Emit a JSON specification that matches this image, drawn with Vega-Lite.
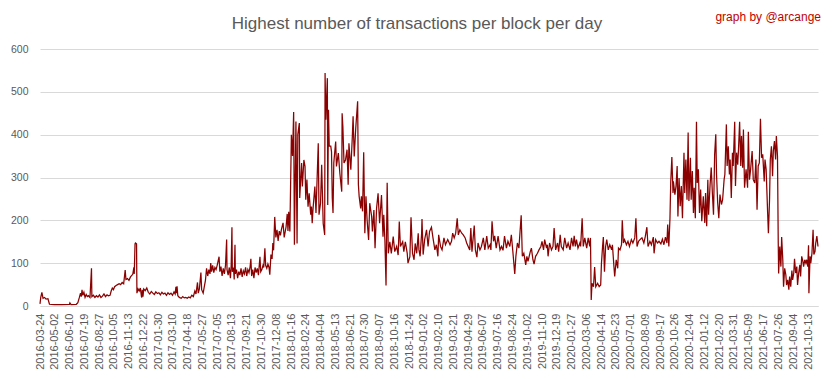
{
"$schema": "https://vega.github.io/schema/vega-lite/v6.json",
"width": 778,
"height": 257,
"autosize": {"type": "none"},
"padding": {"left": 40, "top": 49, "right": 15, "bottom": 73},
"background": "white",
"config": {"font": "Liberation Sans", "view": {"stroke": null}, "axis": {"labelOverlap": false}},
"title": {"text": "Highest number of transactions per block per day", "fontSize": 17, "fontWeight": "normal", "color": "#595959", "anchor": "middle", "dx": -12, "offset": -22},
"resolve": {"axis": {"x": "independent", "y": "independent"}},
"layer": [
{
"data": {"values": [
{"date":"2016-03-24","v":5},{"date":"2016-03-26","v":20},{"date":"2016-03-29","v":32},{"date":"2016-04-01","v":18},{"date":"2016-04-05","v":20},{"date":"2016-04-09","v":16},{"date":"2016-04-14","v":17},{"date":"2016-04-18","v":4},{"date":"2016-05-01","v":3},{"date":"2016-05-20","v":3},{"date":"2016-06-10","v":4},{"date":"2016-06-11","v":7},{"date":"2016-06-14","v":3},{"date":"2016-06-28","v":4},{"date":"2016-07-02","v":8},{"date":"2016-07-06","v":20},{"date":"2016-07-09","v":30},{"date":"2016-07-11","v":22},{"date":"2016-07-13","v":38},{"date":"2016-07-15","v":25},{"date":"2016-07-18","v":32},{"date":"2016-07-21","v":20},{"date":"2016-07-24","v":27},{"date":"2016-07-27","v":22},{"date":"2016-07-30","v":24},{"date":"2016-08-03","v":20},{"date":"2016-08-07","v":88},{"date":"2016-08-08","v":22},{"date":"2016-08-12","v":25},{"date":"2016-08-16","v":20},{"date":"2016-08-20","v":24},{"date":"2016-08-24","v":21},{"date":"2016-08-28","v":26},{"date":"2016-09-01","v":20},{"date":"2016-09-05","v":23},{"date":"2016-09-09","v":28},{"date":"2016-09-13","v":22},{"date":"2016-09-17","v":26},{"date":"2016-09-21","v":24},{"date":"2016-09-25","v":25},{"date":"2016-09-28","v":35},{"date":"2016-10-01","v":42},{"date":"2016-10-04","v":38},{"date":"2016-10-07","v":45},{"date":"2016-10-11","v":48},{"date":"2016-10-15","v":50},{"date":"2016-10-19","v":52},{"date":"2016-10-23","v":50},{"date":"2016-10-27","v":55},{"date":"2016-10-31","v":52},{"date":"2016-11-04","v":84},{"date":"2016-11-06","v":62},{"date":"2016-11-10","v":64},{"date":"2016-11-14","v":60},{"date":"2016-11-18","v":68},{"date":"2016-11-22","v":72},{"date":"2016-11-24","v":74},{"date":"2016-11-27","v":90},{"date":"2016-11-28","v":75},{"date":"2016-11-30","v":145},{"date":"2016-12-01","v":147},{"date":"2016-12-04","v":145},{"date":"2016-12-05","v":30},{"date":"2016-12-08","v":40},{"date":"2016-12-11","v":35},{"date":"2016-12-14","v":42},{"date":"2016-12-17","v":22},{"date":"2016-12-18","v":20},{"date":"2016-12-19","v":38},{"date":"2016-12-21","v":22},{"date":"2016-12-23","v":40},{"date":"2016-12-27","v":36},{"date":"2016-12-31","v":42},
{"date":"2017-01-04","v":32},{"date":"2017-01-08","v":28},{"date":"2017-01-12","v":34},{"date":"2017-01-16","v":30},{"date":"2017-01-20","v":27},{"date":"2017-01-24","v":33},{"date":"2017-01-28","v":29},{"date":"2017-02-01","v":31},{"date":"2017-02-05","v":26},{"date":"2017-02-09","v":32},{"date":"2017-02-13","v":28},{"date":"2017-02-17","v":30},{"date":"2017-02-21","v":25},{"date":"2017-02-25","v":31},{"date":"2017-03-01","v":27},{"date":"2017-03-05","v":30},{"date":"2017-03-09","v":25},{"date":"2017-03-13","v":33},{"date":"2017-03-16","v":28},{"date":"2017-03-18","v":45},{"date":"2017-03-19","v":30},{"date":"2017-03-21","v":46},{"date":"2017-03-23","v":24},{"date":"2017-03-27","v":20},{"date":"2017-04-01","v":18},{"date":"2017-04-05","v":22},{"date":"2017-04-09","v":19},{"date":"2017-04-13","v":20},{"date":"2017-04-17","v":18},{"date":"2017-04-21","v":21},{"date":"2017-04-25","v":19},{"date":"2017-04-29","v":25},{"date":"2017-05-03","v":22},{"date":"2017-05-07","v":35},{"date":"2017-05-10","v":28},{"date":"2017-05-14","v":55},{"date":"2017-05-16","v":30},{"date":"2017-05-19","v":40},{"date":"2017-05-23","v":78},{"date":"2017-05-25","v":38},{"date":"2017-05-29","v":30},{"date":"2017-06-01","v":45},{"date":"2017-06-04","v":60},{"date":"2017-06-07","v":88},{"date":"2017-06-10","v":70},{"date":"2017-06-13","v":85},{"date":"2017-06-16","v":75},{"date":"2017-06-18","v":100},{"date":"2017-06-20","v":80},{"date":"2017-06-23","v":95},{"date":"2017-06-26","v":78},{"date":"2017-06-29","v":90},{"date":"2017-07-02","v":85},{"date":"2017-07-05","v":95},{"date":"2017-07-10","v":115},{"date":"2017-07-12","v":80},{"date":"2017-07-15","v":92},{"date":"2017-07-18","v":70},{"date":"2017-07-21","v":88},{"date":"2017-07-24","v":75},{"date":"2017-07-27","v":95},{"date":"2017-07-30","v":155},{"date":"2017-07-31","v":85},{"date":"2017-08-03","v":72},{"date":"2017-08-06","v":90},{"date":"2017-08-09","v":65},{"date":"2017-08-11","v":95},{"date":"2017-08-13","v":184},{"date":"2017-08-14","v":80},{"date":"2017-08-17","v":90},{"date":"2017-08-19","v":62},{"date":"2017-08-21","v":143},{"date":"2017-08-22","v":75},{"date":"2017-08-25","v":85},{"date":"2017-08-28","v":65},{"date":"2017-08-31","v":80},{"date":"2017-09-03","v":72},{"date":"2017-09-06","v":88},{"date":"2017-09-09","v":68},{"date":"2017-09-12","v":82},{"date":"2017-09-15","v":75},{"date":"2017-09-18","v":90},{"date":"2017-09-21","v":70},{"date":"2017-09-24","v":85},{"date":"2017-09-27","v":78},{"date":"2017-09-30","v":92},{"date":"2017-10-02","v":110},{"date":"2017-10-04","v":70},{"date":"2017-10-07","v":85},{"date":"2017-10-10","v":65},{"date":"2017-10-13","v":90},{"date":"2017-10-16","v":78},{"date":"2017-10-19","v":88},{"date":"2017-10-22","v":72},{"date":"2017-10-26","v":115},{"date":"2017-10-28","v":80},{"date":"2017-10-31","v":85},{"date":"2017-11-03","v":95},{"date":"2017-11-05","v":90},{"date":"2017-11-08","v":135},{"date":"2017-11-10","v":95},{"date":"2017-11-13","v":88},{"date":"2017-11-16","v":98},{"date":"2017-11-19","v":90},{"date":"2017-11-21","v":73},{"date":"2017-11-24","v":120},{"date":"2017-11-27","v":110},{"date":"2017-11-29","v":147},{"date":"2017-12-01","v":130},{"date":"2017-12-04","v":208},{"date":"2017-12-07","v":160},{"date":"2017-12-10","v":178},{"date":"2017-12-13","v":152},{"date":"2017-12-16","v":175},{"date":"2017-12-19","v":165},{"date":"2017-12-22","v":180},{"date":"2017-12-26","v":194},{"date":"2017-12-29","v":160},
{"date":"2018-01-03","v":185},{"date":"2018-01-06","v":215},{"date":"2018-01-08","v":175},{"date":"2018-01-10","v":220},{"date":"2018-01-13","v":174},{"date":"2018-01-17","v":400},{"date":"2018-01-20","v":350},{"date":"2018-01-23","v":453},{"date":"2018-01-25","v":143},{"date":"2018-01-29","v":431},{"date":"2018-02-01","v":146},{"date":"2018-02-03","v":400},{"date":"2018-02-07","v":427},{"date":"2018-02-08","v":252},{"date":"2018-02-13","v":334},{"date":"2018-02-15","v":279},{"date":"2018-02-19","v":341},{"date":"2018-02-22","v":326},{"date":"2018-02-24","v":248},{"date":"2018-02-27","v":295},{"date":"2018-03-02","v":232},{"date":"2018-03-05","v":263},{"date":"2018-03-09","v":213},{"date":"2018-03-11","v":232},{"date":"2018-03-13","v":193},{"date":"2018-03-15","v":225},{"date":"2018-03-20","v":279},{"date":"2018-03-23","v":217},{"date":"2018-03-29","v":380},{"date":"2018-03-31","v":213},{"date":"2018-04-04","v":240},{"date":"2018-04-07","v":330},{"date":"2018-04-11","v":193},{"date":"2018-04-15","v":166},{"date":"2018-04-16","v":544},{"date":"2018-04-18","v":435},{"date":"2018-04-22","v":532},{"date":"2018-04-23","v":236},{"date":"2018-04-25","v":458},{"date":"2018-04-27","v":373},{"date":"2018-05-01","v":373},{"date":"2018-05-03","v":360},{"date":"2018-05-05","v":252},{"date":"2018-05-07","v":217},{"date":"2018-05-09","v":334},{"date":"2018-05-14","v":384},{"date":"2018-05-16","v":326},{"date":"2018-05-21","v":357},{"date":"2018-05-25","v":310},{"date":"2018-05-30","v":267},{"date":"2018-05-31","v":450},{"date":"2018-06-02","v":419},{"date":"2018-06-05","v":334},{"date":"2018-06-09","v":341},{"date":"2018-06-13","v":365},{"date":"2018-06-16","v":283},{"date":"2018-06-18","v":380},{"date":"2018-06-23","v":318},{"date":"2018-06-27","v":396},{"date":"2018-06-29","v":443},{"date":"2018-07-02","v":349},{"date":"2018-07-06","v":415},{"date":"2018-07-11","v":478},{"date":"2018-07-13","v":283},{"date":"2018-07-15","v":256},{"date":"2018-07-19","v":228},{"date":"2018-07-21","v":256},{"date":"2018-07-24","v":221},{"date":"2018-07-27","v":359},{"date":"2018-07-30","v":170},{"date":"2018-08-02","v":256},{"date":"2018-08-05","v":201},{"date":"2018-08-09","v":154},{"date":"2018-08-12","v":240},{"date":"2018-08-17","v":209},{"date":"2018-08-19","v":174},{"date":"2018-08-23","v":224},{"date":"2018-08-26","v":135},{"date":"2018-08-30","v":228},{"date":"2018-09-03","v":263},{"date":"2018-09-07","v":193},{"date":"2018-09-12","v":259},{"date":"2018-09-16","v":162},{"date":"2018-09-18","v":213},{"date":"2018-09-21","v":154},{"date":"2018-09-24","v":48},{"date":"2018-09-27","v":288},{"date":"2018-09-30","v":123},{"date":"2018-10-04","v":150},{"date":"2018-10-08","v":123},{"date":"2018-10-13","v":162},{"date":"2018-10-17","v":127},{"date":"2018-10-22","v":139},{"date":"2018-10-26","v":119},{"date":"2018-10-29","v":197},{"date":"2018-11-01","v":139},{"date":"2018-11-07","v":150},{"date":"2018-11-10","v":127},{"date":"2018-11-14","v":150},{"date":"2018-11-19","v":123},{"date":"2018-11-21","v":100},{"date":"2018-11-26","v":115},{"date":"2018-11-29","v":207},{"date":"2018-12-03","v":123},{"date":"2018-12-07","v":108},{"date":"2018-12-10","v":146},{"date":"2018-12-14","v":123},{"date":"2018-12-18","v":170},{"date":"2018-12-20","v":131},{"date":"2018-12-23","v":116},{"date":"2018-12-27","v":170},{"date":"2018-12-28","v":203},{"date":"2018-12-31","v":120},
{"date":"2019-01-04","v":155},{"date":"2019-01-09","v":178},{"date":"2019-01-13","v":139},{"date":"2019-01-17","v":174},{"date":"2019-01-22","v":184},{"date":"2019-01-26","v":159},{"date":"2019-01-31","v":131},{"date":"2019-02-04","v":143},{"date":"2019-02-08","v":116},{"date":"2019-02-10","v":166},{"date":"2019-02-15","v":139},{"date":"2019-02-19","v":131},{"date":"2019-02-24","v":159},{"date":"2019-02-28","v":143},{"date":"2019-03-06","v":155},{"date":"2019-03-12","v":143},{"date":"2019-03-16","v":151},{"date":"2019-03-19","v":170},{"date":"2019-03-23","v":159},{"date":"2019-03-27","v":170},{"date":"2019-03-31","v":205},{"date":"2019-04-03","v":166},{"date":"2019-04-07","v":178},{"date":"2019-04-12","v":170},{"date":"2019-04-16","v":166},{"date":"2019-04-21","v":159},{"date":"2019-04-25","v":147},{"date":"2019-04-29","v":139},{"date":"2019-05-03","v":131},{"date":"2019-05-06","v":182},{"date":"2019-05-09","v":127},{"date":"2019-05-15","v":188},{"date":"2019-05-18","v":131},{"date":"2019-05-22","v":114},{"date":"2019-05-25","v":147},{"date":"2019-05-30","v":131},{"date":"2019-06-03","v":139},{"date":"2019-06-08","v":159},{"date":"2019-06-12","v":131},{"date":"2019-06-17","v":163},{"date":"2019-06-21","v":135},{"date":"2019-06-26","v":143},{"date":"2019-06-28","v":131},{"date":"2019-07-01","v":198},{"date":"2019-07-05","v":151},{"date":"2019-07-08","v":164},{"date":"2019-07-12","v":135},{"date":"2019-07-17","v":163},{"date":"2019-07-22","v":131},{"date":"2019-07-26","v":139},{"date":"2019-07-30","v":130},{"date":"2019-08-03","v":163},{"date":"2019-08-08","v":135},{"date":"2019-08-12","v":151},{"date":"2019-08-17","v":139},{"date":"2019-08-21","v":166},{"date":"2019-08-25","v":127},{"date":"2019-08-30","v":75},{"date":"2019-09-02","v":116},{"date":"2019-09-06","v":147},{"date":"2019-09-10","v":135},{"date":"2019-09-13","v":174},{"date":"2019-09-16","v":212},{"date":"2019-09-19","v":116},{"date":"2019-09-23","v":123},{"date":"2019-09-28","v":96},{"date":"2019-10-01","v":116},{"date":"2019-10-04","v":104},{"date":"2019-10-10","v":127},{"date":"2019-10-13","v":135},{"date":"2019-10-17","v":108},{"date":"2019-10-20","v":98},{"date":"2019-10-24","v":116},{"date":"2019-10-29","v":123},{"date":"2019-11-02","v":131},{"date":"2019-11-07","v":139},{"date":"2019-11-10","v":151},{"date":"2019-11-14","v":131},{"date":"2019-11-17","v":155},{"date":"2019-11-22","v":135},{"date":"2019-11-24","v":143},{"date":"2019-11-26","v":116},{"date":"2019-11-30","v":147},{"date":"2019-12-05","v":131},{"date":"2019-12-09","v":139},{"date":"2019-12-12","v":182},{"date":"2019-12-16","v":131},{"date":"2019-12-21","v":147},{"date":"2019-12-24","v":127},{"date":"2019-12-28","v":166},{"date":"2019-12-31","v":139},
{"date":"2020-01-05","v":131},{"date":"2020-01-09","v":159},{"date":"2020-01-14","v":135},{"date":"2020-01-18","v":147},{"date":"2020-01-23","v":131},{"date":"2020-01-27","v":159},{"date":"2020-01-31","v":139},{"date":"2020-02-03","v":164},{"date":"2020-02-06","v":139},{"date":"2020-02-09","v":155},{"date":"2020-02-13","v":135},{"date":"2020-02-18","v":147},{"date":"2020-02-20","v":139},{"date":"2020-02-24","v":205},{"date":"2020-02-27","v":139},{"date":"2020-03-02","v":159},{"date":"2020-03-07","v":135},{"date":"2020-03-11","v":159},{"date":"2020-03-15","v":139},{"date":"2020-03-17","v":159},{"date":"2020-03-19","v":14},{"date":"2020-03-21","v":53},{"date":"2020-03-25","v":45},{"date":"2020-03-28","v":91},{"date":"2020-03-31","v":45},{"date":"2020-04-05","v":53},{"date":"2020-04-09","v":45},{"date":"2020-04-13","v":49},{"date":"2020-04-15","v":100},{"date":"2020-04-18","v":139},{"date":"2020-04-20","v":161},{"date":"2020-04-23","v":80},{"date":"2020-04-26","v":139},{"date":"2020-04-29","v":155},{"date":"2020-05-03","v":131},{"date":"2020-05-07","v":143},{"date":"2020-05-12","v":131},{"date":"2020-05-14","v":143},{"date":"2020-05-18","v":92},{"date":"2020-05-20","v":69},{"date":"2020-05-24","v":108},{"date":"2020-05-28","v":88},{"date":"2020-05-30","v":135},{"date":"2020-06-03","v":131},{"date":"2020-06-07","v":143},{"date":"2020-06-09","v":200},{"date":"2020-06-12","v":147},{"date":"2020-06-15","v":155},{"date":"2020-06-20","v":143},{"date":"2020-06-24","v":151},{"date":"2020-06-28","v":139},{"date":"2020-07-03","v":155},{"date":"2020-07-07","v":147},{"date":"2020-07-12","v":159},{"date":"2020-07-15","v":205},{"date":"2020-07-18","v":139},{"date":"2020-07-22","v":151},{"date":"2020-07-27","v":156},{"date":"2020-07-31","v":159},{"date":"2020-08-05","v":147},{"date":"2020-08-09","v":163},{"date":"2020-08-13","v":184},{"date":"2020-08-16","v":139},{"date":"2020-08-21","v":151},{"date":"2020-08-25","v":143},{"date":"2020-08-30","v":161},{"date":"2020-09-01","v":123},{"date":"2020-09-05","v":155},{"date":"2020-09-10","v":147},{"date":"2020-09-14","v":151},{"date":"2020-09-19","v":145},{"date":"2020-09-23","v":156},{"date":"2020-09-27","v":143},{"date":"2020-10-01","v":161},{"date":"2020-10-05","v":147},{"date":"2020-10-07","v":190},{"date":"2020-10-10","v":139},{"date":"2020-10-13","v":205},{"date":"2020-10-15","v":288},{"date":"2020-10-18","v":348},{"date":"2020-10-21","v":264},{"date":"2020-10-22","v":291},{"date":"2020-10-26","v":260},{"date":"2020-10-29","v":280},{"date":"2020-11-01","v":327},{"date":"2020-11-03","v":209},{"date":"2020-11-06","v":299},{"date":"2020-11-09","v":233},{"date":"2020-11-12","v":280},{"date":"2020-11-15","v":205},{"date":"2020-11-19","v":358},{"date":"2020-11-21","v":264},{"date":"2020-11-24","v":342},{"date":"2020-11-27","v":248},{"date":"2020-11-30","v":405},{"date":"2020-12-02","v":245},{"date":"2020-12-06","v":346},{"date":"2020-12-08","v":248},{"date":"2020-12-11","v":315},{"date":"2020-12-14","v":217},{"date":"2020-12-16","v":276},{"date":"2020-12-19","v":205},{"date":"2020-12-22","v":430},{"date":"2020-12-24","v":287},{"date":"2020-12-27","v":319},{"date":"2020-12-30","v":217},
{"date":"2021-01-02","v":272},{"date":"2021-01-05","v":198},{"date":"2021-01-09","v":256},{"date":"2021-01-13","v":194},{"date":"2021-01-15","v":264},{"date":"2021-01-18","v":186},{"date":"2021-01-21","v":295},{"date":"2021-01-23","v":213},{"date":"2021-01-27","v":284},{"date":"2021-01-30","v":323},{"date":"2021-02-02","v":264},{"date":"2021-02-05","v":213},{"date":"2021-02-08","v":354},{"date":"2021-02-11","v":401},{"date":"2021-02-13","v":307},{"date":"2021-02-16","v":241},{"date":"2021-02-19","v":205},{"date":"2021-02-22","v":260},{"date":"2021-02-26","v":237},{"date":"2021-03-01","v":248},{"date":"2021-03-05","v":295},{"date":"2021-03-07","v":307},{"date":"2021-03-11","v":424},{"date":"2021-03-13","v":327},{"date":"2021-03-16","v":373},{"date":"2021-03-19","v":307},{"date":"2021-03-21","v":342},{"date":"2021-03-24","v":252},{"date":"2021-03-27","v":358},{"date":"2021-03-29","v":327},{"date":"2021-04-02","v":430},{"date":"2021-04-04","v":280},{"date":"2021-04-07","v":358},{"date":"2021-04-10","v":330},{"date":"2021-04-12","v":366},{"date":"2021-04-15","v":430},{"date":"2021-04-18","v":327},{"date":"2021-04-20","v":397},{"date":"2021-04-23","v":323},{"date":"2021-04-25","v":412},{"date":"2021-04-28","v":276},{"date":"2021-05-02","v":319},{"date":"2021-05-06","v":276},{"date":"2021-05-08","v":407},{"date":"2021-05-11","v":295},{"date":"2021-05-14","v":319},{"date":"2021-05-18","v":362},{"date":"2021-05-21","v":295},{"date":"2021-05-25","v":287},{"date":"2021-05-28","v":342},{"date":"2021-05-31","v":225},{"date":"2021-06-03","v":327},{"date":"2021-06-06","v":334},{"date":"2021-06-09","v":437},{"date":"2021-06-12","v":346},{"date":"2021-06-15","v":354},{"date":"2021-06-19","v":291},{"date":"2021-06-21","v":342},{"date":"2021-06-24","v":319},{"date":"2021-06-28","v":217},{"date":"2021-06-30","v":170},{"date":"2021-07-03","v":248},{"date":"2021-07-05","v":342},{"date":"2021-07-08","v":373},{"date":"2021-07-11","v":303},{"date":"2021-07-13","v":362},{"date":"2021-07-16","v":385},{"date":"2021-07-19","v":342},{"date":"2021-07-21","v":397},{"date":"2021-07-24","v":350},{"date":"2021-07-26","v":147},{"date":"2021-07-27","v":76},{"date":"2021-07-30","v":139},{"date":"2021-08-02","v":92},{"date":"2021-08-04","v":161},{"date":"2021-08-07","v":108},{"date":"2021-08-09","v":45},{"date":"2021-08-12","v":88},{"date":"2021-08-15","v":73},{"date":"2021-08-17","v":49},{"date":"2021-08-20","v":61},{"date":"2021-08-23","v":38},{"date":"2021-08-25","v":69},{"date":"2021-08-28","v":45},{"date":"2021-08-31","v":83},{"date":"2021-09-02","v":61},{"date":"2021-09-05","v":77},{"date":"2021-09-07","v":110},{"date":"2021-09-10","v":77},{"date":"2021-09-13","v":92},{"date":"2021-09-15","v":49},{"date":"2021-09-18","v":77},{"date":"2021-09-21","v":96},{"date":"2021-09-23","v":69},{"date":"2021-09-26","v":116},{"date":"2021-09-29","v":104},{"date":"2021-10-01","v":92},{"date":"2021-10-04","v":108},{"date":"2021-10-07","v":100},{"date":"2021-10-09","v":108},{"date":"2021-10-12","v":92},{"date":"2021-10-14","v":142},{"date":"2021-10-15","v":30},{"date":"2021-10-18","v":116},{"date":"2021-10-20","v":100},{"date":"2021-10-23","v":123},{"date":"2021-10-26","v":178},{"date":"2021-10-28","v":120},{"date":"2021-10-31","v":127},{"date":"2021-11-02","v":147},{"date":"2021-11-05","v":163},{"date":"2021-11-08","v":139}
]},
"mark": {"type": "line", "color": "#8B0000", "strokeWidth": 1.25, "interpolate": "linear"},
"encoding": {
"x": {"field": "date", "type": "temporal",
"scale": {"type": "utc", "nice": false, "domain": [{"year":2016,"month":3,"date":24,"utc":true},{"year":2021,"month":11,"date":8,"utc":true}]},
"axis": {"title": null, "format": "%Y-%m-%d", "labelAngle": -90, "labelAlign": "right", "labelBaseline": "middle", "ticks": false, "grid": false, "domainColor": "#d9d9d9", "labelColor": "#595959", "labelFontSize": 11, "labelPadding": 7, "labelOverlap": false, "labelFlush": false, "labelBound": false,
"values": [{"year":2016,"month":3,"date":24,"utc":true},{"year":2016,"month":5,"date":2,"utc":true},{"year":2016,"month":6,"date":10,"utc":true},{"year":2016,"month":7,"date":19,"utc":true},{"year":2016,"month":8,"date":27,"utc":true},{"year":2016,"month":10,"date":5,"utc":true},{"year":2016,"month":11,"date":13,"utc":true},{"year":2016,"month":12,"date":22,"utc":true},{"year":2017,"month":1,"date":30,"utc":true},{"year":2017,"month":3,"date":10,"utc":true},{"year":2017,"month":4,"date":18,"utc":true},{"year":2017,"month":5,"date":27,"utc":true},{"year":2017,"month":7,"date":5,"utc":true},{"year":2017,"month":8,"date":13,"utc":true},{"year":2017,"month":9,"date":21,"utc":true},{"year":2017,"month":10,"date":30,"utc":true},{"year":2017,"month":12,"date":8,"utc":true},{"year":2018,"month":1,"date":16,"utc":true},{"year":2018,"month":2,"date":24,"utc":true},{"year":2018,"month":4,"date":4,"utc":true},{"year":2018,"month":5,"date":13,"utc":true},{"year":2018,"month":6,"date":21,"utc":true},{"year":2018,"month":7,"date":30,"utc":true},{"year":2018,"month":9,"date":7,"utc":true},{"year":2018,"month":10,"date":16,"utc":true},{"year":2018,"month":11,"date":24,"utc":true},{"year":2019,"month":1,"date":2,"utc":true},{"year":2019,"month":2,"date":10,"utc":true},{"year":2019,"month":3,"date":21,"utc":true},{"year":2019,"month":4,"date":29,"utc":true},{"year":2019,"month":6,"date":7,"utc":true},{"year":2019,"month":7,"date":16,"utc":true},{"year":2019,"month":8,"date":24,"utc":true},{"year":2019,"month":10,"date":2,"utc":true},{"year":2019,"month":11,"date":10,"utc":true},{"year":2019,"month":12,"date":19,"utc":true},{"year":2020,"month":1,"date":27,"utc":true},{"year":2020,"month":3,"date":6,"utc":true},{"year":2020,"month":4,"date":14,"utc":true},{"year":2020,"month":5,"date":23,"utc":true},{"year":2020,"month":7,"date":1,"utc":true},{"year":2020,"month":8,"date":9,"utc":true},{"year":2020,"month":9,"date":17,"utc":true},{"year":2020,"month":10,"date":26,"utc":true},{"year":2020,"month":12,"date":4,"utc":true},{"year":2021,"month":1,"date":12,"utc":true},{"year":2021,"month":2,"date":20,"utc":true},{"year":2021,"month":3,"date":31,"utc":true},{"year":2021,"month":5,"date":9,"utc":true},{"year":2021,"month":6,"date":17,"utc":true},{"year":2021,"month":7,"date":26,"utc":true},{"year":2021,"month":9,"date":4,"utc":true},{"year":2021,"month":10,"date":13,"utc":true}]}},
"y": {"field": "v", "type": "quantitative",
"scale": {"domain": [0, 600], "nice": false},
"axis": {"title": null, "values": [0,100,200,300,400,500,600], "grid": true, "gridColor": "#d9d9d9", "domain": false, "ticks": false, "labelPadding": 12, "labelColor": "#595959", "labelFontSize": 10.5}}
}
},
{
"data": {"values": [{"t": "graph by @arcange"}]},
"mark": {"type": "text", "align": "right", "baseline": "middle", "fontSize": 12, "color": "#C00000", "dx": 3},
"encoding": {
"x": {"datum": {"year":2021,"month":11,"date":8,"utc":true}, "type": "temporal", "axis": null},
"y": {"datum": 675, "type": "quantitative", "axis": null},
"text": {"field": "t"}
}
}
]
}
